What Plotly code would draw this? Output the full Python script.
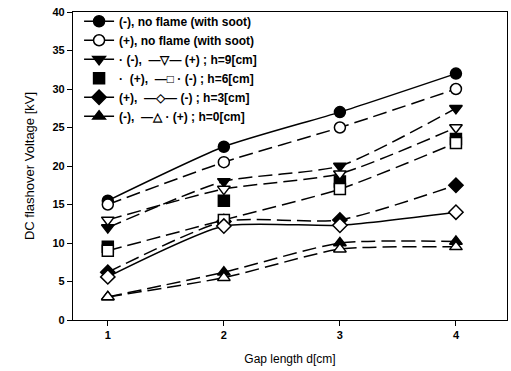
import plotly.graph_objects as go

gap = [1, 2, 3, 4]
noflame_neg = [15.5, 22.5, 27.0, 32.0]
noflame_pos = [15.0, 20.5, 25.0, 30.0]
h9_neg = [12.0, 18.0, 20.0, 27.5]
h9_pos = [13.0, 17.0, 19.0, 25.0]
h6_pos = [9.5, 15.5, 18.0, 23.5]
h6_neg = [9.0, 13.0, 17.0, 23.0]
h3_pos = [6.2, 12.8, 13.0, 17.5]
h3_neg = [5.6, 12.2, 12.3, 14.0]
h0_neg = [3.0, 6.2, 10.0, 10.2]
h0_pos = [3.0, 5.5, 9.2, 9.5]

DASH = "14px,6px"
series = [
    ("(-), no flame (with soot)", noflame_neg, "circle", True, "solid", "lines+markers", True),
    ("(+), no flame (with soot)", noflame_pos, "circle", False, DASH, "lines+markers", True),
    ("· (-),  —▽— (+) ; h=9[cm]", h9_neg, "triangle-down", True, DASH, "lines+markers", True),
    ("h9 pos", h9_pos, "triangle-down", False, DASH, "lines+markers", False),
    ("·  (+),  —□ · (-) ; h=6[cm]", h6_pos, "square", True, DASH, "markers", True),
    ("h6 neg", h6_neg, "square", False, DASH, "lines+markers", False),
    ("(+),  —◇— (-) ; h=3[cm]", h3_pos, "diamond", True, DASH, "lines+markers", True),
    ("h3 neg", h3_neg, "diamond", False, "solid", "lines+markers", False),
    ("(-),  —△ · (+) ; h=0[cm]", h0_neg, "triangle-up", True, DASH, "lines+markers", True),
    ("h0 pos", h0_pos, "triangle-up", False, DASH, "lines+markers", False),
]

order = [0, 1, 2, 4, 6, 8, 3, 5, 7, 9]
fig = go.Figure()
for i in order:
    name, ys, sym, filled, dash, mode, show = series[i]
    fig.add_trace(go.Scatter(
        x=gap, y=ys, name=name, mode=mode, showlegend=show,
        line=dict(color="black", width=1.5, dash=dash, shape="spline", smoothing=0.6),
        marker=dict(symbol=sym, size=11, color="black" if filled else "white",
                    line=dict(color="black", width=1.5)),
    ))

fig.update_layout(
    width=511, height=371,
    margin=dict(l=73, r=4, t=12, b=51),
    paper_bgcolor="white", plot_bgcolor="white",
    font=dict(family="Liberation Sans, Arial", size=11, color="black"),
    showlegend=True,
    legend=dict(x=0.014, y=1.017, xanchor="left", yanchor="top",
                bgcolor="rgba(0,0,0,0)", font=dict(size=12, color="black", weight="bold"),
                tracegroupgap=0, itemwidth=30, traceorder="normal"),
    xaxis=dict(range=[0.7, 4.44], tickvals=[1, 2, 3, 4], showgrid=False, zeroline=False,
               showline=True, linecolor="black", linewidth=1.2, mirror=True,
               ticks="outside", ticklen=5, tickcolor="black",
               tickfont=dict(family="Liberation Sans, Arial", size=11, color="black", weight="bold"),
               title=dict(text="Gap length d[cm]", font=dict(size=12), standoff=14)),
    yaxis=dict(range=[0, 40], tickvals=[0, 5, 10, 15, 20, 25, 30, 35, 40], showgrid=False,
               zeroline=False, showline=True, linecolor="black", linewidth=1.2, mirror=True,
               ticks="outside", ticklen=5, tickcolor="black",
               tickfont=dict(family="Liberation Sans, Arial", size=11, color="black", weight="bold"),
               title=dict(text="DC flashover Voltage [kV]", font=dict(size=13), standoff=14)),
)

fig.write_html("out.html")
